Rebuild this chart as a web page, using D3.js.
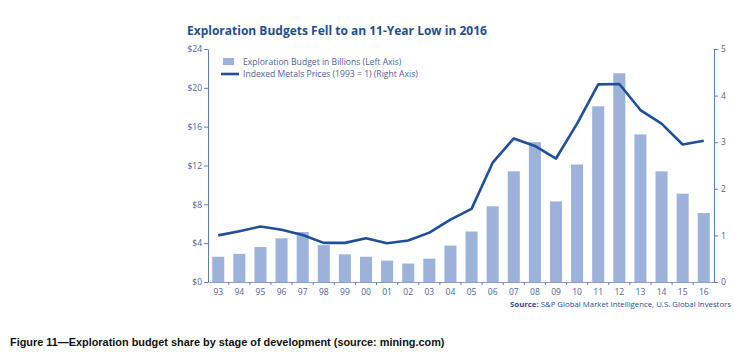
<!DOCTYPE html>
<html>
<head>
<meta charset="utf-8">
<script src="https://cdn.jsdelivr.net/npm/d3@7"></script>
<style>
  body { margin: 0; background: #fff; }
  svg text { font-family: 'Open Sans', sans-serif; }
</style>
</head>
<body>
<svg id="chart" width="734" height="356"></svg>
<script>
// values
var years = ['93', '94', '95', '96', '97', '98', '99', '00', '01', '02', '03', '04',
  '05', '06', '07', '08', '09', '10', '11', '12', '13', '14', '15', '16'];
var budget = [2.6, 2.9, 3.6, 4.5, 5.15, 3.8, 2.85, 2.6, 2.2, 1.9, 2.4, 3.75,
  5.2, 7.8, 11.4, 14.4, 8.3, 12.1, 18.1, 21.5, 15.2, 11.4, 9.1, 7.1];
var metals = [1.0, 1.09, 1.19, 1.12, 1.01, 0.84, 0.84, 0.94, 0.83, 0.89, 1.06, 1.34,
  1.57, 2.56, 3.08, 2.92, 2.65, 3.4, 4.24, 4.25, 3.69, 3.4, 2.95, 3.03];
var leftTicks = [0, 4, 8, 12, 16, 20, 24];
var rightTicks = [0, 1, 2, 3, 4, 5];

var svg = d3.select('#chart'),
  margin = { top: 49, right: 20, bottom: 74, left: 208 },
  width = +svg.attr('width') - margin.left - margin.right,
  height = +svg.attr('height') - margin.top - margin.bottom,
  g = svg.append('g').attr('transform', 'translate(' + margin.left + ',' + margin.top + ')');

var axisColor = '#5b7fb8', labelColor = '#4d6496', lineColor = '#1f4f98', barColor = '#9db2da';

var x = d3.scaleBand().domain(years).range([0, width]).paddingInner(0.43).paddingOuter(0.2);
var yL = d3.scaleLinear().domain([0, 24]).range([height, 0]);
var yR = d3.scaleLinear().domain([0, 5]).range([height, 0]);

// title
svg.append('text')
  .attr('x', 187).attr('y', 35)
  .attr('fill', '#1f4f8f')
  .style('font-size', '12px').style('font-weight', 'bold')
  .text('Exploration Budgets Fell to an 11-Year Low in 2016');

// bars
g.selectAll('.bar')
  .data(budget)
  .enter().append('rect')
  .attr('x', function(d, i) { return x(years[i]); })
  .attr('y', function(d) { return yL(d); })
  .attr('width', x.bandwidth())
  .attr('height', function(d) { return height - yL(d); })
  .attr('fill', barColor);

// metals line
var line = d3.line()
  .x(function(d, i) { return x(years[i]) + x.bandwidth() / 2; })
  .y(function(d) { return yR(d); });

g.append('path')
  .datum(metals)
  .attr('fill', 'none')
  .attr('stroke', lineColor)
  .attr('stroke-width', 2.6)
  .attr('stroke-linejoin', 'round')
  .attr('d', line);

function styleAxis(sel) {
  sel.selectAll('path, line').attr('stroke', axisColor);
  sel.selectAll('text').attr('fill', labelColor).style('font-size', '8.5px');
}

// left axis
g.append('g')
  .call(d3.axisLeft(yL).tickValues(leftTicks).tickSize(4).tickSizeOuter(0).tickPadding(2)
    .tickFormat(function(d) { return '$' + d; }))
  .call(styleAxis);

// right axis
g.append('g')
  .attr('transform', 'translate(' + width + ',0)')
  .call(d3.axisRight(yR).tickValues(rightTicks).tickSize(4).tickSizeOuter(0).tickPadding(3)
    .tickFormat(d3.format('d')))
  .call(styleAxis);

// bottom axis: ticks sit between the bars
var xAxis = g.append('g')
  .attr('transform', 'translate(0,' + height + ')')
  .call(d3.axisBottom(x).tickSize(0).tickSizeOuter(0).tickPadding(7))
  .call(styleAxis);
xAxis.select('.domain').attr('stroke', '#8aa0c8');
xAxis.selectAll('.sep')
  .data(years.slice(1))
  .enter().append('line')
  .attr('class', 'sep')
  .attr('x1', function(d) { return x(d) - x.step() * x.paddingInner() / 2; })
  .attr('x2', function(d) { return x(d) - x.step() * x.paddingInner() / 2; })
  .attr('y1', 0).attr('y2', 3)
  .attr('stroke', axisColor);

// legend
var legend = svg.append('g').attr('transform', 'translate(223,58)');
legend.append('rect').attr('width', 11).attr('height', 7).attr('fill', barColor);
legend.append('text').attr('x', 20).attr('y', 6.8)
  .attr('fill', labelColor).style('font-size', '8.6px')
  .text('Exploration Budget in Billions (Left Axis)');
legend.append('line').attr('x1', -2).attr('x2', 16).attr('y1', 16).attr('y2', 16)
  .attr('stroke', lineColor).attr('stroke-width', 2.6);
legend.append('text').attr('x', 20).attr('y', 19.2)
  .attr('fill', labelColor).style('font-size', '8.6px')
  .text('Indexed Metals Prices (1993 = 1) (Right Axis)');

// source
var src = svg.append('text')
  .attr('x', 731).attr('y', 307)
  .attr('text-anchor', 'end')
  .attr('fill', '#1f4f8f')
  .style('font-size', '7.8px');
src.append('tspan').style('font-weight', 'bold').text('Source: ');
src.append('tspan').text('S&P Global Market Intelligence, U.S. Global Investors');

// figure caption
svg.append('text')
  .attr('x', 10).attr('y', 346)
  .attr('fill', '#111')
  .style('font-family', 'Liberation Sans, Arial, sans-serif')
  .style('font-size', '10.9px').style('font-weight', 'bold')
  .text('Figure 11\u2014Exploration budget share by stage of development (source: mining.com)');
</script>
</body>
</html>
